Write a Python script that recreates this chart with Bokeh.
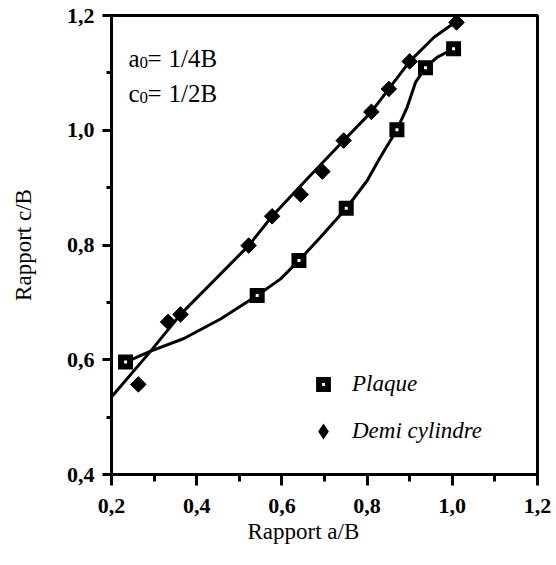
from bokeh.plotting import figure
from bokeh.models import FixedTicker, Label, Legend, LegendItem, Range1d, Title
from bokeh.embed import file_html
from bokeh.resources import INLINE

# ---- data ----
plaque_x = [0.233, 0.542, 0.640, 0.751, 0.870, 0.937, 1.003]
plaque_y = [0.596, 0.712, 0.773, 0.864, 1.001, 1.109, 1.142]

demi_x = [0.263, 0.333, 0.362, 0.522, 0.577, 0.644, 0.695, 0.745, 0.810, 0.851, 0.900, 1.010]
demi_y = [0.557, 0.666, 0.679, 0.799, 0.850, 0.888, 0.928, 0.982, 1.032, 1.072, 1.120, 1.188]

# fitted curves as traced on the picture
plaque_curve_x = [0.233, 0.292, 0.370, 0.456, 0.542, 0.597, 0.640, 0.691, 0.751, 0.800, 0.831, 0.870, 0.894, 0.914, 0.937, 0.964, 1.003]
plaque_curve_y = [0.596, 0.615, 0.637, 0.671, 0.712, 0.741, 0.773, 0.814, 0.864, 0.912, 0.953, 1.001, 1.040, 1.084, 1.109, 1.127, 1.142]

demi_curve_x = [0.200, 0.292, 0.362, 0.522, 0.577, 0.659, 0.745, 0.810, 0.851, 0.900, 0.957, 1.010]
demi_curve_y = [0.535, 0.615, 0.679, 0.799, 0.850, 0.915, 0.982, 1.032, 1.072, 1.120, 1.162, 1.190]

x_ticks = [0.2, 0.4, 0.6, 0.8, 1.0, 1.2]
x_tick_labels = ["0,2", "0,4", "0,6", "0,8", "1,0", "1,2"]
x_minor = [0.3, 0.5, 0.7, 0.9, 1.1]
y_ticks = [0.4, 0.6, 0.8, 1.0, 1.2]
y_tick_labels = ["0,4", "0,6", "0,8", "1,0", "1,2"]
y_minor = [0.5, 0.7, 0.9, 1.1]

FONT = "Liberation Serif"

p = figure(width=556, height=565, output_backend="svg", toolbar_location=None,
           x_range=Range1d(0.2, 1.2), y_range=Range1d(0.4, 1.2),
           min_border_left=111, min_border_right=19, min_border_top=15, min_border_bottom=91)
p.xgrid.visible = False
p.ygrid.visible = False
p.outline_line_color = "black"
p.outline_line_width = 3
p.background_fill_color = "white"
p.border_fill_color = "white"

# axes
xa = p.xaxis[0]
xa.ticker = FixedTicker(ticks=x_ticks, minor_ticks=x_minor)
xa.major_label_overrides = {t: l for t, l in zip(x_ticks, x_tick_labels)}
ya = p.yaxis[0]
ya.ticker = FixedTicker(ticks=y_ticks, minor_ticks=y_minor)
ya.major_label_overrides = {t: l for t, l in zip(y_ticks, y_tick_labels)}
for ax in (xa, ya):
    ax.axis_line_width = 3
    ax.axis_line_color = "black"
    ax.major_tick_line_width = 3
    ax.minor_tick_line_width = 3
    ax.major_tick_in = 0
    ax.minor_tick_in = 0
    ax.major_label_text_font = FONT
    ax.major_label_text_font_size = "22px"
    ax.major_label_text_font_style = "bold"
    ax.major_label_text_color = "black"
xa.major_tick_out = 11
xa.minor_tick_out = 7
xa.major_label_standoff = 13
ya.major_tick_out = 9
ya.minor_tick_out = 5
ya.major_label_standoff = 8

ya.axis_label = "Rapport c/B"
ya.axis_label_text_font = FONT
ya.axis_label_text_font_size = "23px"
ya.axis_label_text_font_style = "normal"
ya.axis_label_text_color = "black"
ya.axis_label_standoff = 28

xtitle = Title(text="Rapport a/B", align="left", offset=136, standoff=3,
               text_font=FONT, text_font_size="23px", text_font_style="normal",
               text_color="black")
p.add_layout(xtitle, "below")

# curves
p.line(plaque_curve_x, plaque_curve_y, line_color="black", line_width=3)
p.line(demi_curve_x, demi_curve_y, line_color="black", line_width=3)

# markers
sq = p.scatter(plaque_x, plaque_y, marker="square", size=9, fill_color="white",
               line_color="black", line_width=6, line_join="miter")
# diamond-shaped key for the legend (drawn under the data diamonds, hidden by them)
dm_key = p.scatter(demi_x, demi_y, marker="diamond", size=8, fill_color="black",
                   line_color="black", line_width=4, line_join="miter")
dm = p.scatter(demi_x, demi_y, marker="square", angle=0.7854, size=11,
               fill_color="black", line_color="black", line_width=1)

legend = Legend(items=[LegendItem(label="Plaque", renderers=[sq]),
                       LegendItem(label="Demi cylindre", renderers=[dm_key])],
                location=(201, 30), orientation="vertical")
legend.border_line_color = None
legend.background_fill_alpha = 0
legend.label_text_font = FONT
legend.label_text_font_style = "italic"
legend.label_text_font_size = "23px"
legend.label_text_color = "black"
legend.glyph_width = 22
legend.glyph_height = 22
legend.label_height = 22
legend.label_standoff = 18
legend.spacing = 21
legend.padding = 0
legend.margin = 0
p.add_layout(legend)

# annotation a0 / c0
def txt(x, y, s, size="25px"):
    p.add_layout(Label(x=x, y=y, text=s, text_font=FONT, text_font_size=size,
                       text_color="black", text_baseline="alphabetic"))

txt(0.2399, 1.125, "a")
txt(0.2657, 1.118, "0", size="17px")
txt(0.2845, 1.125, "=")
txt(0.3338, 1.125, "1/4B")
txt(0.2399, 1.064, "c")
txt(0.2657, 1.057, "0", size="17px")
txt(0.2845, 1.064, "=")
txt(0.3338, 1.064, "1/2B")

open("out.html", "w").write(file_html(p, INLINE))
